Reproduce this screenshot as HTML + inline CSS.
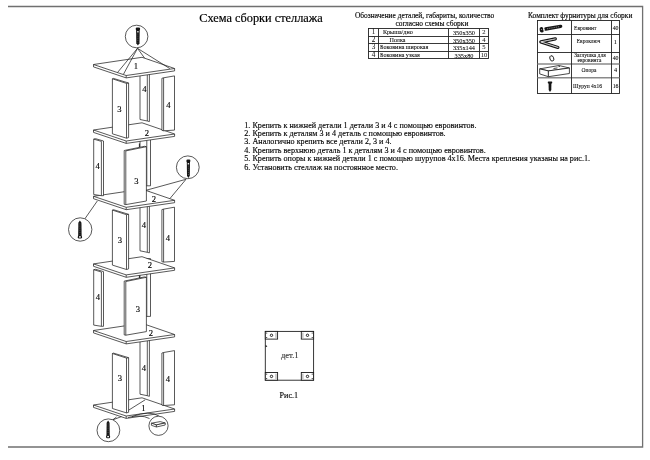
<!DOCTYPE html>
<html><head><meta charset="utf-8"><style>
html,body{margin:0;padding:0;background:#fff;width:650px;height:460px;overflow:hidden}
svg{display:block;will-change:transform;font-family:"Liberation Serif",serif}
</style></head><body>
<svg width="650" height="460" viewBox="0 0 650 460">
<rect width="650" height="460" fill="#fff"/>
<path d="M8,6.5 H642.6 V447 H8" fill="none" stroke="#707070" stroke-width="1.3"/>
<path d="M93.5,405 L142,397.8 L174.6,409 L174.6,411.4 L126.2,418.4 L93.5,407.4 Z" fill="#fff" stroke="#222" stroke-width="0.75" stroke-linejoin="round" />
<path d="M93.5,405 L126.2,416 L174.6,409" fill="none" stroke="#222" stroke-width="0.75" stroke-linejoin="round" />
<line x1="126.2" y1="416" x2="126.2" y2="418.4" stroke="#222" stroke-width="0.75"/>
<line x1="145.2" y1="399.8" x2="127.8" y2="410.7" stroke="#222" stroke-width="0.75"/>
<path d="M140,334.7 L147.3,334.7 L149.4,334.7 L149.4,396.3 L147.3,395.7 L140,394.2 Z" fill="#fff" stroke="#222" stroke-width="0.75" stroke-linejoin="round" />
<line x1="147.3" y1="334.7" x2="147.3" y2="395.7" stroke="#222" stroke-width="0.75"/>
<path d="M161.9,353 L163.6,352.5 L174.5,350.6 L174.5,404.8 L163.6,405.5 L161.9,405.1 Z" fill="#fff" stroke="#222" stroke-width="0.75" stroke-linejoin="round" />
<line x1="163.6" y1="352.5" x2="163.6" y2="405.5" stroke="#222" stroke-width="0.75"/>
<path d="M112.4,353.5 L113.4,353.1 L128.6,357.7 L128.6,412.3 L126.5,412.9 L112.4,408.5 Z" fill="#fff" stroke="#222" stroke-width="0.75" stroke-linejoin="round" />
<path d="M112.4,353.5 L126.5,358.1 L128.6,357.7" fill="none" stroke="#222" stroke-width="0.75" stroke-linejoin="round" />
<line x1="126.5" y1="358.1" x2="126.5" y2="412.9" stroke="#222" stroke-width="0.75"/>
<path d="M93.5,330.5 L142,323.3 L174.6,334.5 L174.6,336.9 L126.2,343.9 L93.5,332.9 Z" fill="#fff" stroke="#222" stroke-width="0.75" stroke-linejoin="round" />
<path d="M93.5,330.5 L126.2,341.5 L174.6,334.5" fill="none" stroke="#222" stroke-width="0.75" stroke-linejoin="round" />
<line x1="126.2" y1="341.5" x2="126.2" y2="343.9" stroke="#222" stroke-width="0.75"/>
<path d="M140,258.6 L146.8,258.6 L150.5,258.6 L150.5,316.4 L140,316.4 Z" fill="#fff" stroke="#222" stroke-width="0.75" stroke-linejoin="round" />
<line x1="146.8" y1="258.6" x2="146.8" y2="316.4" stroke="#222" stroke-width="0.75"/>
<line x1="139.4" y1="274.1" x2="139.4" y2="278.1" stroke="#222" stroke-width="1.0"/>
<path d="M93.7,269.7 L95.6,269.3 L103.5,271.6 L103.5,326.3 L101.4,326.3 L93.7,325.1 Z" fill="#fff" stroke="#222" stroke-width="0.75" stroke-linejoin="round" />
<line x1="101.4" y1="272" x2="101.4" y2="326.3" stroke="#222" stroke-width="0.75"/>
<line x1="93.7" y1="269.7" x2="101.4" y2="272" stroke="#222" stroke-width="0.75"/>
<path d="M124.2,281.1 L144.5,276.9 L146.4,277.3 L146.4,331.6 L125.8,335.2 L124.2,334.9 Z" fill="#fff" stroke="#222" stroke-width="0.75" stroke-linejoin="round" />
<line x1="125.8" y1="281.5" x2="146.4" y2="277.3" stroke="#222" stroke-width="0.75"/>
<line x1="125.8" y1="281.5" x2="125.8" y2="335.2" stroke="#222" stroke-width="0.75"/>
<path d="M93.5,263.9 L142,256.7 L174.6,267.9 L174.6,270.3 L126.2,277.3 L93.5,266.3 Z" fill="#fff" stroke="#222" stroke-width="0.75" stroke-linejoin="round" />
<path d="M93.5,263.9 L126.2,274.9 L174.6,267.9" fill="none" stroke="#222" stroke-width="0.75" stroke-linejoin="round" />
<line x1="126.2" y1="274.9" x2="126.2" y2="277.3" stroke="#222" stroke-width="0.75"/>
<path d="M140,191.3 L147.3,191.3 L149.4,191.3 L149.4,252.9 L147.3,252.3 L140,250.8 Z" fill="#fff" stroke="#222" stroke-width="0.75" stroke-linejoin="round" />
<line x1="147.3" y1="191.3" x2="147.3" y2="252.3" stroke="#222" stroke-width="0.75"/>
<path d="M161.9,209.6 L163.6,209.1 L174.5,207.2 L174.5,261.4 L163.6,262.1 L161.9,261.7 Z" fill="#fff" stroke="#222" stroke-width="0.75" stroke-linejoin="round" />
<line x1="163.6" y1="209.1" x2="163.6" y2="262.1" stroke="#222" stroke-width="0.75"/>
<path d="M112.4,210.1 L113.4,209.7 L128.6,214.3 L128.6,268.9 L126.5,269.5 L112.4,265.1 Z" fill="#fff" stroke="#222" stroke-width="0.75" stroke-linejoin="round" />
<path d="M112.4,210.1 L126.5,214.7 L128.6,214.3" fill="none" stroke="#222" stroke-width="0.75" stroke-linejoin="round" />
<line x1="126.5" y1="214.7" x2="126.5" y2="269.5" stroke="#222" stroke-width="0.75"/>
<path d="M93.5,196.3 L142,189.1 L174.6,200.3 L174.6,202.7 L126.2,209.7 L93.5,198.7 Z" fill="#fff" stroke="#222" stroke-width="0.75" stroke-linejoin="round" />
<path d="M93.5,196.3 L126.2,207.3 L174.6,200.3" fill="none" stroke="#222" stroke-width="0.75" stroke-linejoin="round" />
<line x1="126.2" y1="207.3" x2="126.2" y2="209.7" stroke="#222" stroke-width="0.75"/>
<path d="M140,128 L146.8,128 L150.5,128 L150.5,185.8 L140,185.8 Z" fill="#fff" stroke="#222" stroke-width="0.75" stroke-linejoin="round" />
<line x1="146.8" y1="128" x2="146.8" y2="185.8" stroke="#222" stroke-width="0.75"/>
<line x1="139.4" y1="143.5" x2="139.4" y2="147.5" stroke="#222" stroke-width="1.0"/>
<path d="M93.7,139.1 L95.6,138.7 L103.5,141 L103.5,195.7 L101.4,195.7 L93.7,194.5 Z" fill="#fff" stroke="#222" stroke-width="0.75" stroke-linejoin="round" />
<line x1="101.4" y1="141.4" x2="101.4" y2="195.7" stroke="#222" stroke-width="0.75"/>
<line x1="93.7" y1="139.1" x2="101.4" y2="141.4" stroke="#222" stroke-width="0.75"/>
<path d="M124.2,150.5 L144.5,146.3 L146.4,146.7 L146.4,201 L125.8,204.6 L124.2,204.3 Z" fill="#fff" stroke="#222" stroke-width="0.75" stroke-linejoin="round" />
<line x1="125.8" y1="150.9" x2="146.4" y2="146.7" stroke="#222" stroke-width="0.75"/>
<line x1="125.8" y1="150.9" x2="125.8" y2="204.6" stroke="#222" stroke-width="0.75"/>
<path d="M93.5,130 L142,122.8 L174.6,134 L174.6,136.4 L126.2,143.4 L93.5,132.4 Z" fill="#fff" stroke="#222" stroke-width="0.75" stroke-linejoin="round" />
<path d="M93.5,130 L126.2,141 L174.6,134" fill="none" stroke="#222" stroke-width="0.75" stroke-linejoin="round" />
<line x1="126.2" y1="141" x2="126.2" y2="143.4" stroke="#222" stroke-width="0.75"/>
<path d="M140,60 L147.3,60 L149.4,60 L149.4,121.6 L147.3,121 L140,119.5 Z" fill="#fff" stroke="#222" stroke-width="0.75" stroke-linejoin="round" />
<line x1="147.3" y1="60" x2="147.3" y2="121" stroke="#222" stroke-width="0.75"/>
<path d="M161.9,78.3 L163.6,77.8 L174.5,75.9 L174.5,130.1 L163.6,130.8 L161.9,130.4 Z" fill="#fff" stroke="#222" stroke-width="0.75" stroke-linejoin="round" />
<line x1="163.6" y1="77.8" x2="163.6" y2="130.8" stroke="#222" stroke-width="0.75"/>
<path d="M112.4,78.8 L113.4,78.4 L128.6,83 L128.6,137.6 L126.5,138.2 L112.4,133.8 Z" fill="#fff" stroke="#222" stroke-width="0.75" stroke-linejoin="round" />
<path d="M112.4,78.8 L126.5,83.4 L128.6,83" fill="none" stroke="#222" stroke-width="0.75" stroke-linejoin="round" />
<line x1="126.5" y1="83.4" x2="126.5" y2="138.2" stroke="#222" stroke-width="0.75"/>
<path d="M93.5,64.5 L142,57.3 L174.6,68.5 L174.6,70.9 L126.2,77.9 L93.5,66.9 Z" fill="#fff" stroke="#222" stroke-width="0.75" stroke-linejoin="round" />
<path d="M93.5,64.5 L126.2,75.5 L174.6,68.5" fill="none" stroke="#222" stroke-width="0.75" stroke-linejoin="round" />
<line x1="126.2" y1="75.5" x2="126.2" y2="77.9" stroke="#222" stroke-width="0.75"/>
<text x="135.8" y="68.95" font-size="8.6" text-anchor="middle" fill="#000" stroke="#000" stroke-width="0.13" >1</text>
<text x="147" y="135.95" font-size="8.6" text-anchor="middle" fill="#000" stroke="#000" stroke-width="0.13" >2</text>
<text x="154" y="202.45" font-size="8.6" text-anchor="middle" fill="#000" stroke="#000" stroke-width="0.13" >2</text>
<text x="150" y="267.95" font-size="8.6" text-anchor="middle" fill="#000" stroke="#000" stroke-width="0.13" >2</text>
<text x="151" y="335.95" font-size="8.6" text-anchor="middle" fill="#000" stroke="#000" stroke-width="0.13" >2</text>
<text x="143.4" y="410.55" font-size="8.6" text-anchor="middle" fill="#000" stroke="#000" stroke-width="0.13" >1</text>
<text x="119.4" y="111.55" font-size="8.6" text-anchor="middle" fill="#000" stroke="#000" stroke-width="0.13" >3</text>
<text x="144.4" y="91.55" font-size="8.6" text-anchor="middle" fill="#000" stroke="#000" stroke-width="0.13" >4</text>
<text x="168.4" y="107.55" font-size="8.6" text-anchor="middle" fill="#000" stroke="#000" stroke-width="0.13" >4</text>
<text x="97.6" y="169.45" font-size="8.6" text-anchor="middle" fill="#000" stroke="#000" stroke-width="0.13" >4</text>
<text x="136.4" y="184.25" font-size="8.6" text-anchor="middle" fill="#000" stroke="#000" stroke-width="0.13" >3</text>
<text x="120" y="242.95" font-size="8.6" text-anchor="middle" fill="#000" stroke="#000" stroke-width="0.13" >3</text>
<text x="144" y="227.95" font-size="8.6" text-anchor="middle" fill="#000" stroke="#000" stroke-width="0.13" >4</text>
<text x="168" y="240.95" font-size="8.6" text-anchor="middle" fill="#000" stroke="#000" stroke-width="0.13" >4</text>
<text x="98" y="299.95" font-size="8.6" text-anchor="middle" fill="#000" stroke="#000" stroke-width="0.13" >4</text>
<text x="138" y="311.95" font-size="8.6" text-anchor="middle" fill="#000" stroke="#000" stroke-width="0.13" >3</text>
<text x="120" y="380.95" font-size="8.6" text-anchor="middle" fill="#000" stroke="#000" stroke-width="0.13" >3</text>
<text x="144" y="370.95" font-size="8.6" text-anchor="middle" fill="#000" stroke="#000" stroke-width="0.13" >4</text>
<text x="168" y="381.95" font-size="8.6" text-anchor="middle" fill="#000" stroke="#000" stroke-width="0.13" >4</text>
<line x1="137.5" y1="48.3" x2="117.5" y2="72.5" stroke="#222" stroke-width="0.75"/>
<line x1="137.5" y1="48.3" x2="123.5" y2="74.2" stroke="#222" stroke-width="0.75"/>
<line x1="137.5" y1="48.3" x2="144.5" y2="58" stroke="#222" stroke-width="0.75"/>
<line x1="137.5" y1="48.3" x2="169.8" y2="68.6" stroke="#222" stroke-width="0.75"/>
<circle cx="136.6" cy="36.5" r="11.3" fill="#fff" stroke="#222" stroke-width="0.75"/>
<rect x="135.7" y="27.6" width="4.4" height="2.6" rx="1.2" fill="#151515"/>
<path d="M136.1,29.6 L139.7,29.6 L139.5,43.2 L137.9,45.4 L136.3,43.2 Z" fill="#151515"/>
<rect x="137.2" y="31" width="1.4" height="1.5" fill="#e6e6e6"/>
<line x1="137.9" y1="33.6" x2="137.9" y2="42.4" stroke="#777" stroke-width="0.7" stroke-dasharray="0.9 1.2"/>
<line x1="186" y1="179.3" x2="146" y2="190.3" stroke="#222" stroke-width="0.75"/>
<line x1="186" y1="179.3" x2="169.9" y2="198.6" stroke="#222" stroke-width="0.75"/>
<circle cx="187.8" cy="167.3" r="11.4" fill="#fff" stroke="#222" stroke-width="0.75"/>
<rect x="186.4" y="159.6" width="4" height="2.6" rx="1.2" fill="#151515"/>
<path d="M186.8,161.6 L190,161.6 L189.8,175.8 L188.4,178 L187,175.8 Z" fill="#151515"/>
<rect x="187.7" y="163" width="1.4" height="1.5" fill="#e6e6e6"/>
<line x1="188.4" y1="165.6" x2="188.4" y2="175" stroke="#777" stroke-width="0.7" stroke-dasharray="0.9 1.2"/>
<line x1="84.8" y1="218.9" x2="97.3" y2="201" stroke="#222" stroke-width="0.75"/>
<circle cx="80.2" cy="229.5" r="11.7" fill="#fff" stroke="#222" stroke-width="0.75"/>
<path d="M78.35,222.7 L79.9,220.5 L81.45,222.7 L81.65,236.5 L78.15,236.5 Z" fill="#151515"/>
<rect x="77.75" y="235.7" width="4.3" height="2.8" rx="1.2" fill="#151515"/>
<rect x="79" y="236.2" width="1.8" height="1.4" fill="#f0f0f0"/>
<line x1="79.9" y1="223.5" x2="79.9" y2="234.5" stroke="#777" stroke-width="0.7" stroke-dasharray="0.9 1.2"/>
<line x1="112.5" y1="420" x2="116.5" y2="417" stroke="#222" stroke-width="0.75"/>
<line x1="112.5" y1="420" x2="121.4" y2="416.6" stroke="#222" stroke-width="0.75"/>
<circle cx="108.4" cy="430.3" r="11.4" fill="#fff" stroke="#222" stroke-width="0.75"/>
<path d="M106.65,422.7 L108.1,420.5 L109.55,422.7 L109.75,436.2 L106.45,436.2 Z" fill="#151515"/>
<rect x="106.05" y="435.4" width="4.1" height="2.8" rx="1.2" fill="#151515"/>
<rect x="107.2" y="435.9" width="1.8" height="1.4" fill="#f0f0f0"/>
<line x1="108.1" y1="423.5" x2="108.1" y2="434.2" stroke="#777" stroke-width="0.7" stroke-dasharray="0.9 1.2"/>
<path d="M149.5,418.5 Q140,414 128,417.5" fill="none" stroke="#222" stroke-width="0.75"/>
<path d="M159.2,416.2 Q150,410 132,416.5" fill="none" stroke="#222" stroke-width="0.75"/>
<circle cx="158.5" cy="425.8" r="9.6" fill="#fff" stroke="#222" stroke-width="0.75"/>
<path d="M151.4,423.2 L160.2,421.6 L165.2,423 L156.4,424.9 Z" fill="#fff" stroke="#222" stroke-width="0.75" stroke-linejoin="round" />
<path d="M151.4,423.2 L156.4,424.9 L156.4,427 L151.4,425.3 Z" fill="#fff" stroke="#222" stroke-width="0.75" stroke-linejoin="round" />
<path d="M156.4,424.9 L165.2,423 L165.2,425 L156.4,427 Z" fill="#fff" stroke="#222" stroke-width="0.75" stroke-linejoin="round" />
<text x="199.2" y="22.3" font-size="12.3" text-anchor="start" fill="#000" stroke="#000" stroke-width="0.18" >Схема сборки стеллажа</text>
<text x="424.6" y="18.3" font-size="7.4" text-anchor="middle" fill="#000" stroke="#000" stroke-width="0.13" >Обозначение деталей, габариты, количество</text>
<text x="431.9" y="26.4" font-size="7.4" text-anchor="middle" fill="#000" stroke="#000" stroke-width="0.13" >согласно схемы сборки</text>
<text x="580.2" y="17.9" font-size="7.4" text-anchor="middle" fill="#000" stroke="#000" stroke-width="0.13" >Комплект фурнитуры для сборки</text>
<rect x="368.5" y="28.5" width="120" height="30" fill="none" stroke="#222" stroke-width="0.9"/>
<line x1="368.5" y1="36.5" x2="488.5" y2="36.5" stroke="#222" stroke-width="0.9"/>
<line x1="368.5" y1="43.5" x2="488.5" y2="43.5" stroke="#222" stroke-width="0.9"/>
<line x1="368.5" y1="51.5" x2="488.5" y2="51.5" stroke="#222" stroke-width="0.9"/>
<line x1="378.5" y1="28.5" x2="378.5" y2="58.5" stroke="#222" stroke-width="0.9"/>
<line x1="448.5" y1="28.5" x2="448.5" y2="58.5" stroke="#222" stroke-width="0.9"/>
<line x1="479.5" y1="28.5" x2="479.5" y2="58.5" stroke="#222" stroke-width="0.9"/>
<text x="373.5" y="34.3" font-size="7.2" text-anchor="middle" fill="#222" stroke="#222" stroke-width="0.05" >1</text>
<text x="383" y="34.1" font-size="6.1" text-anchor="start" fill="#000" stroke="#000" stroke-width="0.06" >Крыша/дно</text>
<text x="464" y="34.6" font-size="6.3" text-anchor="middle" fill="#000" stroke="#000" stroke-width="0.06" >350x350</text>
<text x="484" y="34.2" font-size="6.6" text-anchor="middle" fill="#222" stroke="#222" stroke-width="0.05" >2</text>
<text x="373.5" y="42.3" font-size="7.2" text-anchor="middle" fill="#222" stroke="#222" stroke-width="0.05" >2</text>
<text x="389.5" y="42.1" font-size="6.1" text-anchor="start" fill="#000" stroke="#000" stroke-width="0.06" >Полка</text>
<text x="464" y="42.6" font-size="6.3" text-anchor="middle" fill="#000" stroke="#000" stroke-width="0.06" >350x350</text>
<text x="484" y="42.2" font-size="6.6" text-anchor="middle" fill="#222" stroke="#222" stroke-width="0.05" >4</text>
<text x="373.5" y="49.3" font-size="7.2" text-anchor="middle" fill="#222" stroke="#222" stroke-width="0.05" >3</text>
<text x="380" y="49.1" font-size="6.1" text-anchor="start" fill="#000" stroke="#000" stroke-width="0.06" >Боковина широкая</text>
<text x="464" y="49.6" font-size="6.3" text-anchor="middle" fill="#000" stroke="#000" stroke-width="0.06" >335x144</text>
<text x="484" y="49.2" font-size="6.6" text-anchor="middle" fill="#222" stroke="#222" stroke-width="0.05" >5</text>
<text x="373.5" y="57.3" font-size="7.2" text-anchor="middle" fill="#222" stroke="#222" stroke-width="0.05" >4</text>
<text x="380" y="57.1" font-size="6.1" text-anchor="start" fill="#000" stroke="#000" stroke-width="0.06" >Боковина узкая</text>
<text x="464" y="57.6" font-size="6.3" text-anchor="middle" fill="#000" stroke="#000" stroke-width="0.06" >335x80</text>
<text x="484" y="57.2" font-size="6.6" text-anchor="middle" fill="#222" stroke="#222" stroke-width="0.05" >10</text>
<rect x="537.5" y="20.5" width="82" height="73" fill="none" stroke="#222" stroke-width="0.9"/>
<line x1="537.5" y1="34.5" x2="619.5" y2="34.5" stroke="#222" stroke-width="0.9"/>
<line x1="537.5" y1="52.5" x2="619.5" y2="52.5" stroke="#222" stroke-width="0.9"/>
<line x1="537.5" y1="64" x2="619.5" y2="64" stroke="#8a8a8a" stroke-width="1.4"/>
<line x1="537.5" y1="77.7" x2="619.5" y2="77.7" stroke="#8a8a8a" stroke-width="1.4"/>
<line x1="571.5" y1="20.5" x2="571.5" y2="93.5" stroke="#222" stroke-width="0.9"/>
<line x1="611.5" y1="20.5" x2="611.5" y2="93.5" stroke="#222" stroke-width="0.9"/>
<text x="585.2" y="29.5" font-size="5.5" text-anchor="middle" fill="#000" stroke="#000" stroke-width="0.06" >Евровинт</text>
<text x="588.5" y="43" font-size="5.5" text-anchor="middle" fill="#000" stroke="#000" stroke-width="0.06" >Евроключ</text>
<text x="590" y="57.2" font-size="5.5" text-anchor="middle" fill="#000" stroke="#000" stroke-width="0.06" >Заглушка для</text>
<text x="589.5" y="62.4" font-size="5.5" text-anchor="middle" fill="#000" stroke="#000" stroke-width="0.06" >евровинта</text>
<text x="589" y="72.4" font-size="5.5" text-anchor="middle" fill="#000" stroke="#000" stroke-width="0.06" >Опора</text>
<text x="587.5" y="88.3" font-size="5.5" text-anchor="middle" fill="#000" stroke="#000" stroke-width="0.06" >Шуруп 4х16</text>
<text x="615.6" y="29.8" font-size="5.9" text-anchor="middle" fill="#000" stroke="#000" stroke-width="0.06" >40</text>
<text x="615.4" y="43.6" font-size="6.2" text-anchor="middle" fill="#000" stroke="#000" stroke-width="0.06" >1</text>
<text x="615.6" y="59.6" font-size="5.9" text-anchor="middle" fill="#000" stroke="#000" stroke-width="0.06" >40</text>
<text x="615.6" y="72.1" font-size="6.2" text-anchor="middle" fill="#000" stroke="#000" stroke-width="0.06" >4</text>
<text x="615.6" y="88" font-size="5.9" text-anchor="middle" fill="#000" stroke="#000" stroke-width="0.06" >16</text>
<line x1="545.6" y1="29.0" x2="560.6" y2="26.4" stroke="#151515" stroke-width="3.5" stroke-linecap="round"/>
<line x1="547.0" y1="28.8" x2="559.5" y2="26.6" stroke="#aaa" stroke-width="0.7" stroke-dasharray="1.3 0.9"/>
<ellipse cx="541.6" cy="29.8" rx="2.0" ry="2.8" transform="rotate(-12 541.6 29.8)" fill="#151515"/>
<circle cx="543.9" cy="29.3" r="1.0" fill="#e0e0e0"/>
<circle cx="541.4" cy="29.4" r="0.5" fill="#bbb"/>
<path d="M555.3,38.9 L540.8,41.9 L557.9,47.4" fill="none" stroke="#151515" stroke-width="3.2" stroke-linejoin="round" stroke-linecap="round"/>
<path d="M555.3,38.9 L540.8,41.9 L557.9,47.4" fill="none" stroke="#f2f2f2" stroke-width="0.9" stroke-linejoin="round" stroke-linecap="round"/>
<path d="M553,39.4 L543,41.5 M544,43 L555.5,46.6" fill="none" stroke="#999" stroke-width="0.6" stroke-dasharray="1.2 1.2"/>
<ellipse cx="551.8" cy="58.4" rx="1.9" ry="2.8" transform="rotate(-20 551.8 58.4)" fill="none" stroke="#1a1a1a" stroke-width="0.9"/>
<path d="M539.7,68.9 L559,65.5 L569.4,68 L548.4,70.9 Z" fill="#fff" stroke="#1a1a1a" stroke-width="0.8" stroke-linejoin="round" />
<path d="M539.7,68.9 L548.4,70.9 L548.4,76.7 L539.7,73.9 Z" fill="#fff" stroke="#1a1a1a" stroke-width="0.8" stroke-linejoin="round" />
<path d="M548.4,70.9 L569.4,68 L569.4,73.5 L548.4,76.7 Z" fill="#fff" stroke="#1a1a1a" stroke-width="0.8" stroke-linejoin="round" />
<line x1="553.5" y1="68.5" x2="557.5" y2="67.9" stroke="#333" stroke-width="0.9"/>
<line x1="558.5" y1="66.6" x2="560" y2="66.4" stroke="#333" stroke-width="0.9"/>
<path d="M548.6,82.5 L551.4,82.5 L551.3,90.0 L550.0,92.0 L548.7,90.0 Z" fill="#151515"/>
<rect x="547.8" y="81.4" width="4.4" height="2.0" rx="0.6" fill="#151515"/>
<text x="244.3" y="127.6" font-size="8.15" text-anchor="start" fill="#000" stroke="#000" stroke-width="0.13" >1. Крепить к нижней детали 1 детали 3 и 4 с помощью евровинтов.</text>
<text x="244.3" y="135.8" font-size="8.15" text-anchor="start" fill="#000" stroke="#000" stroke-width="0.13" >2. Крепить к деталям 3 и 4 деталь с помощью евровинтов.</text>
<text x="244.3" y="144" font-size="8.15" text-anchor="start" fill="#000" stroke="#000" stroke-width="0.13" >3. Аналогично крепить все детали 2, 3 и 4.</text>
<text x="244.3" y="152.6" font-size="8.15" text-anchor="start" fill="#000" stroke="#000" stroke-width="0.13" >4. Крепить верхнюю деталь 1 к деталям 3 и 4 с помощью евровинтов.</text>
<text x="244.3" y="161" font-size="8.15" text-anchor="start" fill="#000" stroke="#000" stroke-width="0.13" >5. Крепить опоры к нижней детали 1 с помощью шурупов 4х16. Места крепления указаны на рис.1.</text>
<text x="244.3" y="170" font-size="8.15" text-anchor="start" fill="#000" stroke="#000" stroke-width="0.13" >6. Установить стеллаж на постоянное место.</text>
<rect x="265.3" y="331.4" width="48.3" height="48.8" fill="none" stroke="#222" stroke-width="0.9"/>
<rect x="265.3" y="331.4" width="12.3" height="7.7" fill="#fff" stroke="#1a1a1a" stroke-width="0.9"/>
<circle cx="271.5" cy="335.3" r="1.2" fill="none" stroke="#111" stroke-width="0.9"/>
<line x1="276" y1="332.6" x2="276" y2="337.9" stroke="#666" stroke-width="0.6"/>
<circle cx="266.7" cy="333" r="0.55" fill="#111"/>
<circle cx="266.7" cy="337.5" r="0.55" fill="#111"/>
<rect x="301.3" y="331.4" width="12.3" height="7.7" fill="#fff" stroke="#1a1a1a" stroke-width="0.9"/>
<circle cx="307.5" cy="335.3" r="1.2" fill="none" stroke="#111" stroke-width="0.9"/>
<line x1="302.9" y1="332.6" x2="302.9" y2="337.9" stroke="#666" stroke-width="0.6"/>
<circle cx="312.2" cy="333" r="0.55" fill="#111"/>
<circle cx="312.2" cy="337.5" r="0.55" fill="#111"/>
<rect x="265.3" y="372.5" width="12.3" height="7.7" fill="#fff" stroke="#1a1a1a" stroke-width="0.9"/>
<circle cx="271.5" cy="376.4" r="1.2" fill="none" stroke="#111" stroke-width="0.9"/>
<line x1="276" y1="373.7" x2="276" y2="379" stroke="#666" stroke-width="0.6"/>
<circle cx="266.7" cy="374.1" r="0.55" fill="#111"/>
<circle cx="266.7" cy="378.6" r="0.55" fill="#111"/>
<rect x="301.3" y="372.5" width="12.3" height="7.7" fill="#fff" stroke="#1a1a1a" stroke-width="0.9"/>
<circle cx="307.5" cy="376.4" r="1.2" fill="none" stroke="#111" stroke-width="0.9"/>
<line x1="302.9" y1="373.7" x2="302.9" y2="379" stroke="#666" stroke-width="0.6"/>
<circle cx="312.2" cy="374.1" r="0.55" fill="#111"/>
<circle cx="312.2" cy="378.6" r="0.55" fill="#111"/>
<path d="M265.6,345.0 L267.4,346.2 L265.6,347.2 Z" fill="#111"/>
<text x="289.8" y="358.3" font-size="8.6" text-anchor="middle" fill="#333" stroke="#333" stroke-width="0.13" >дет.1</text>
<text x="288.8" y="398" font-size="8.1" text-anchor="middle" fill="#000" stroke="#000" stroke-width="0.13" >Рис.1</text>
</svg>
</body></html>
